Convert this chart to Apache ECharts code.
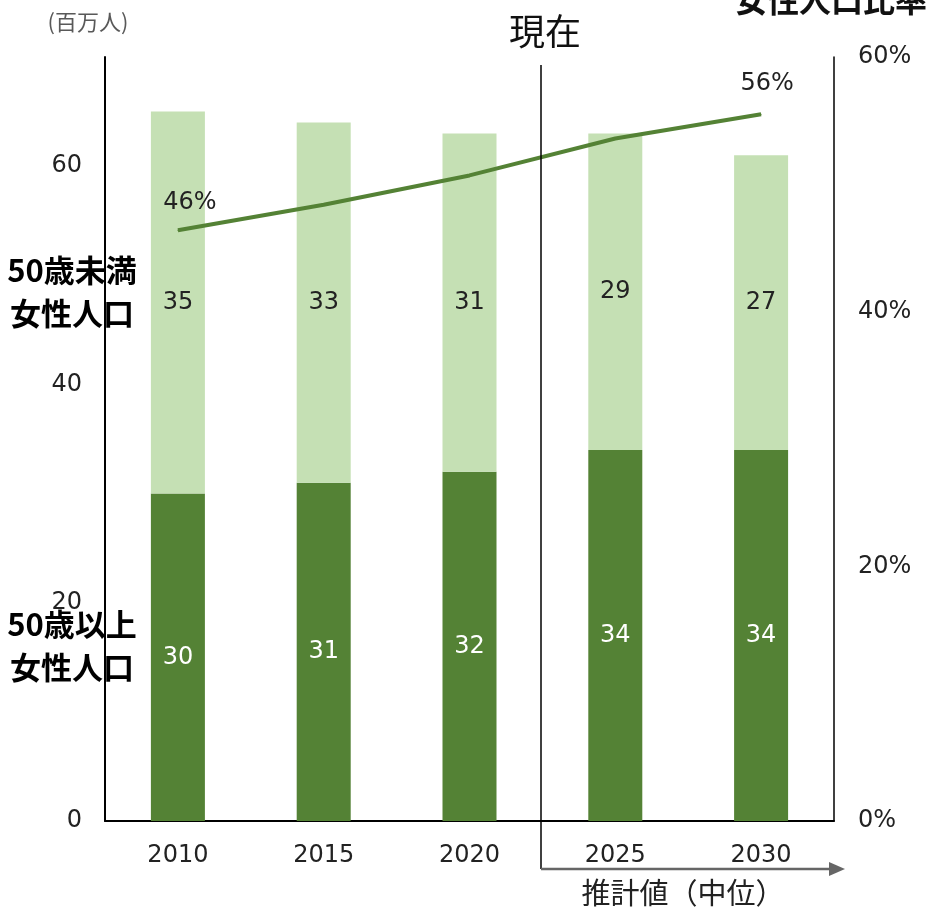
<!DOCTYPE html>
<html>
<head>
<meta charset="utf-8">
<script src="https://cdn.jsdelivr.net/npm/echarts@6/dist/echarts.min.js"></script>
<style>
  html, body { margin: 0; padding: 0; background: #fff; }
  #chart { width: 928px; height: 910px; }
</style>
</head>
<body>
<div id="chart"></div>
<script>
// 年次（2025・2030は推計値）
const years = ['2010', '2015', '2020', '2025', '2030'];
// 50歳以上女性人口（百万人）
const over50 = [30, 31, 32, 34, 34];
// 50歳未満女性人口（百万人）
const under50 = [35, 33, 31, 29, 27];
// 50歳以上女性人口比率
const ratio = [0.464, 0.484, 0.507, 0.536, 0.555];
// 比率ラベルを表示する年
const ratioLabelYears = ['2010', '2030'];
// 軸目盛
const leftTicks = { min: 0, max: 70, interval: 20 };
const rightTicks = { min: 0, max: 0.6, interval: 0.2 };

const FONT = '"DejaVu Sans", "Noto Sans CJK JP", sans-serif';
const JP = '"Noto Sans CJK JP", sans-serif';
const DARK = '#548235';
const LIGHT = '#c5e0b4';
const NUM_SIZE = 24;

const chart = echarts.init(document.getElementById('chart'));

const option = {
  animation: false,
  textStyle: { fontFamily: FONT },
  grid: { left: 105, right: 94, top: 57, bottom: 89, containLabel: false },
  xAxis: {
    type: 'category',
    data: years,
    axisLine: { show: true, lineStyle: { color: '#000', width: 2 } },
    axisTick: { show: false },
    axisLabel: { color: '#222', fontSize: NUM_SIZE, margin: 23, fontFamily: FONT }
  },
  yAxis: [
    {
      type: 'value',
      min: leftTicks.min, max: leftTicks.max, interval: leftTicks.interval,
      axisLine: { show: true, lineStyle: { color: '#000', width: 2 } },
      axisTick: { show: false },
      splitLine: { show: false },
      axisLabel: { color: '#222', fontSize: NUM_SIZE, margin: 23, showMaxLabel: false, fontFamily: FONT }
    },
    {
      type: 'value',
      min: rightTicks.min, max: rightTicks.max, interval: rightTicks.interval,
      position: 'right',
      axisLine: { show: true, lineStyle: { color: '#000', width: 1.5 } },
      axisTick: { show: false },
      splitLine: { show: false },
      axisLabel: {
        color: '#222', fontSize: NUM_SIZE, margin: 24, fontFamily: FONT,
        formatter: v => Math.round(v * 100) + '%'
      }
    }
  ],
  series: [
    {
      name: '50歳以上女性人口',
      type: 'bar',
      stack: 'pop',
      barWidth: 54,
      data: over50,
      itemStyle: { color: DARK },
      label: { show: true, position: 'inside', color: '#fff', fontSize: NUM_SIZE, fontFamily: FONT }
    },
    {
      name: '50歳未満女性人口',
      type: 'bar',
      stack: 'pop',
      barWidth: 54,
      data: under50,
      itemStyle: { color: LIGHT },
      label: { show: true, position: 'inside', color: '#222', fontSize: NUM_SIZE, fontFamily: FONT }
    },
    {
      name: '女性人口比率',
      type: 'line',
      yAxisIndex: 1,
      symbol: 'circle',
      symbolSize: 1,
      showSymbol: true,
      itemStyle: { color: DARK },
      lineStyle: { color: DARK, width: 4 },
      label: { show: false },
      data: ratio.map((v, i) => ({
        value: v,
        label: {
          show: ratioLabelYears.includes(years[i]),
          position: 'top',
          distance: i === 0 ? 15 : 18,
          offset: i === 0 ? [12, 0] : [6, 0],
          color: '#222',
          fontSize: NUM_SIZE,
          fontFamily: FONT,
          formatter: p => Math.round(p.value * 100) + '%'
        }
      })),
      z: 5
    }
  ]
};

chart.setOption(option);

// 「現在」の区切り線と推計期間の矢印
const xA = chart.convertToPixel({ xAxisIndex: 0 }, '2020');
const xB = chart.convertToPixel({ xAxisIndex: 0 }, '2025');
const xSplit = Math.round((xA + xB) / 2) - 1;
const yArrow = 869;
const arrowEnd = 845;

chart.setOption({
  graphic: [
    {
      type: 'line', z: 10,
      shape: { x1: xSplit, y1: 65, x2: xSplit, y2: yArrow },
      style: { stroke: '#000', lineWidth: 1.5 }
    },
    {
      type: 'line', z: 10,
      shape: { x1: xSplit, y1: yArrow, x2: arrowEnd - 14, y2: yArrow },
      style: { stroke: '#666', lineWidth: 2.5 }
    },
    {
      type: 'polygon', z: 10,
      shape: { points: [[arrowEnd - 16, yArrow - 7], [arrowEnd, yArrow], [arrowEnd - 16, yArrow + 7]] },
      style: { fill: '#666' }
    },
    {
      type: 'text', z: 10,
      x: xSplit + 4, y: 31,
      style: { text: '現在', font: '36px ' + JP, fill: '#111', align: 'center', verticalAlign: 'middle' }
    },
    {
      type: 'text', z: 10,
      x: 683, y: 893,
      style: { text: '推計値（中位）', font: '29px ' + JP, fill: '#222', align: 'center', verticalAlign: 'middle' }
    },
    {
      type: 'text', z: 10,
      x: 735, y: 0,
      style: { text: '女性人口比率', font: 'bold 32px ' + JP, fill: '#111', align: 'left', verticalAlign: 'middle' }
    },
    {
      type: 'text', z: 10,
      x: 88, y: 22,
      style: { text: '(百万人)', font: '22px ' + JP, fill: '#595959', align: 'center', verticalAlign: 'middle' }
    },
    {
      type: 'text', z: 10,
      x: 72, y: 292,
      style: { text: '50歳未満\n女性人口', font: 'bold 31px ' + JP, lineHeight: 43, fill: '#000', align: 'center', verticalAlign: 'middle' }
    },
    {
      type: 'text', z: 10,
      x: 72, y: 646,
      style: { text: '50歳以上\n女性人口', font: 'bold 31px ' + JP, lineHeight: 43, fill: '#000', align: 'center', verticalAlign: 'middle' }
    }
  ]
});
</script>
</body>
</html>
